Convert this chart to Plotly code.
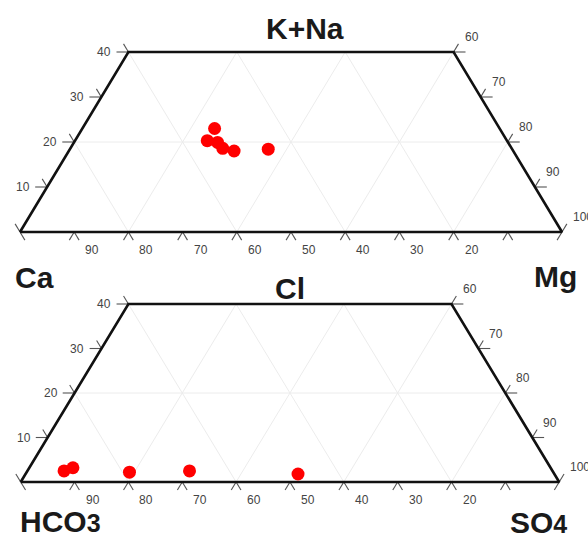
import plotly.graph_objects as go

# ---------------- data (percent) ----------------
# upper diagram: cations
cat_Ca = [52.6, 55.3, 53.6, 53.3, 51.5, 45.0]
cat_Mg = [24.4, 24.4, 26.5, 28.1, 30.5, 36.6]
cat_KNa = [23.0, 20.3, 19.9, 18.6, 18.0, 18.4]

# lower diagram: anions
an_HCO3 = [90.7, 88.7, 78.7, 67.4, 47.6]
an_SO4 = [6.8, 8.1, 19.1, 30.1, 50.6]
an_Cl = [2.5, 3.2, 2.2, 2.5, 1.8]

apex_max = 40
grid_vals = [20, 40, 60, 80]
bottom_tick_vals = [0, 10, 20, 30, 40, 50, 60, 70, 80, 90, 100]
bottom_tick_labels = ["", "90", "80", "70", "60", "50", "40", "30", "20", "", ""]
left_tick_vals = [10, 20, 30, 40]
left_tick_labels = ["10", "20", "30", "40"]
right_tick_vals = [0, 10, 20, 30, 40]
right_tick_labels = ["100", "90", "80", "70", "60"]

FONT = "Arial, 'Liberation Sans', sans-serif"
T = 1.8   # slanted tick length (apex units)
H = 2.2   # horizontal tick length (x units)


def tern(right, apex):
    """ternary (right-corner %, apex %) -> cartesian (x, y)"""
    return right + apex / 2.0, apex


fig = go.Figure()


def add_panel(xr, yr, right_vals, apex_vals):
    # grid
    gx, gy = [10, 90, None], [20, 20, None]
    for g in grid_vals:
        top = min(apex_max, 100 - g)
        a, b = tern(g, 0)
        c, d = tern(g, top)
        gx += [a, c, None]
        gy += [b, d, None]
        a, b = tern(100 - g, 0)
        c, d = tern(100 - g - top, top)
        gx += [a, c, None]
        gy += [b, d, None]
    fig.add_trace(go.Scatter(x=gx, y=gy, mode="lines", xaxis=xr, yaxis=yr,
                             line=dict(color="#ececec", width=1),
                             hoverinfo="skip", showlegend=False))
    # ticks
    tx, ty = [], []
    for m in bottom_tick_vals:
        px, py = tern(m, 0)
        if m > 0:
            tx += [px, px - T / 2, None]
            ty += [py, -T, None]
        if m < 100:
            tx += [px, px + T / 2, None]
            ty += [py, -T, None]
    tx += [0, -T / 2, None]
    ty += [0, T, None]
    for k in left_tick_vals:
        px, py = tern(0, k)
        tx += [px, px - H, None, px, px - T / 2, None]
        ty += [py, py, None, py, py + T, None]
    for k in right_tick_vals:
        px, py = tern(100 - k, k)
        if k > 0:
            tx += [px, px + H, None]
            ty += [py, py, None]
        tx += [px, px + T / 2, None]
        ty += [py, py + T, None]
    fig.add_trace(go.Scatter(x=tx, y=ty, mode="lines", xaxis=xr, yaxis=yr,
                             line=dict(color="#555555", width=1.1),
                             hoverinfo="skip", showlegend=False))
    # outline
    ox, oy = [], []
    for r, a in [(0, 0), (100, 0), (100 - apex_max, apex_max), (0, apex_max), (0, 0)]:
        px, py = tern(r, a)
        ox.append(px)
        oy.append(py)
    fig.add_trace(go.Scatter(x=ox, y=oy, mode="lines", xaxis=xr, yaxis=yr,
                             line=dict(color="#111111", width=2.6),
                             hoverinfo="skip", showlegend=False))
    # points
    pts = [tern(r, a) for r, a in zip(right_vals, apex_vals)]
    fig.add_trace(go.Scatter(x=[p[0] for p in pts], y=[p[1] for p in pts],
                             mode="markers", xaxis=xr, yaxis=yr,
                             marker=dict(color="#ff0000", size=13, line=dict(width=0)),
                             showlegend=False))
    # tick labels
    anns = []
    lab_font = dict(family=FONT, size=12, color="#444")
    for m, lab in zip(bottom_tick_vals, bottom_tick_labels):
        if lab:
            px, py = tern(m, 0)
            anns.append(dict(x=px, y=py, xref=xr, yref=yr, text=lab, showarrow=False,
                             xanchor="left", yanchor="middle", xshift=9, yshift=-18,
                             font=lab_font))
    for k, lab in zip(left_tick_vals, left_tick_labels):
        px, py = tern(0, k)
        anns.append(dict(x=px, y=py, xref=xr, yref=yr, text=lab, showarrow=False,
                         xanchor="right", yanchor="middle", xshift=-15, yshift=0,
                         font=lab_font))
    for k, lab in zip(right_tick_vals, right_tick_labels):
        px, py = tern(100 - k, k)
        anns.append(dict(x=px, y=py, xref=xr, yref=yr, text=lab, showarrow=False,
                         xanchor="left", yanchor="middle", xshift=9, yshift=15,
                         font=lab_font))
    return anns


annotations = []
annotations += add_panel("x", "y", cat_Mg, cat_KNa)
annotations += add_panel("x2", "y2", an_SO4, an_Cl)

W, Hh = 588, 533


def paper(px, py):
    return px / W, 1 - py / Hh


titles = [
    ("K+Na", 305, 28, "center"),
    ("Ca", 34, 277, "center"),
    ("Mg", 555, 276, "center"),
    ("Cl", 290, 288, "center"),
    ("HCO<span style='font-size:25px'>3</span>", 18, 521, "left"),
    ("SO<span style='font-size:25px'>4</span>", 508, 522, "left"),
]
for txt, px, py, xa in titles:
    x, y = paper(px, py)
    annotations.append(dict(x=x, y=y, xref="paper", yref="paper", text=txt,
                            showarrow=False, xanchor=xa, yanchor="middle",
                            font=dict(family=FONT, size=30, color="#1a1a1a", weight="bold")))

split = 1 - 262 / Hh
axis_common = dict(visible=False, showgrid=False, zeroline=False, fixedrange=True)
fig.update_layout(
    width=W, height=Hh,
    margin=dict(l=0, r=0, t=0, b=0),
    paper_bgcolor="white", plot_bgcolor="white",
    xaxis=dict(domain=[0, 1], range=[-20 / 5.42, -20 / 5.42 + W / 5.42], anchor="y", **axis_common),
    yaxis=dict(domain=[split, 1], range=[(232 - 262) / 4.5, 232 / 4.5], anchor="x", **axis_common),
    xaxis2=dict(domain=[0, 1], range=[-20.7 / 5.385, -20.7 / 5.385 + W / 5.385], anchor="y2", **axis_common),
    yaxis2=dict(domain=[0, split], range=[(482 - 533) / 4.45, (482 - 262) / 4.45], anchor="x2", **axis_common),
    annotations=annotations,
    font=dict(family=FONT),
    showlegend=False,
)

fig.write_html("out.html", config={"displayModeBar": False},
               post_script="document.body.style.margin='0';document.body.style.overflow='hidden';")
